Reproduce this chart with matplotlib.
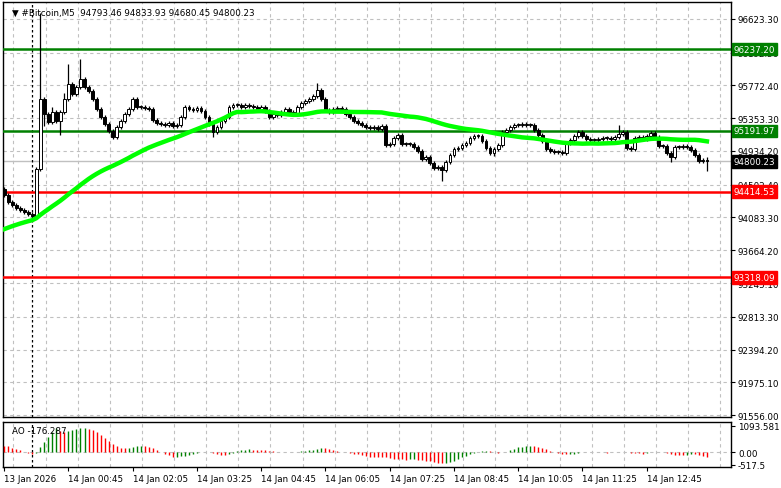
import matplotlib
matplotlib.use("Agg")
import matplotlib.pyplot as plt
import numpy as np

symbol_title = "#Bitcoin,M5  94793.46 94833.93 94680.45 94800.23"
first_open = 94450.0
closes = [94372,94283,94244,94206,94180,94155,94129,94104,94705,95600,
95408,95306,95434,95318,95434,95600,95792,95664,95754,95856,
95754,95702,95600,95472,95370,95280,95191,95114,95242,95318,
95408,95472,95600,95498,95498,95485,95472,95331,95293,95280,
95267,95293,95255,95267,95370,95498,95472,95459,95485,95446,
95370,95280,95178,95242,95318,95370,95498,95523,95523,95498,
95523,95510,95498,95472,95498,95446,95370,95408,95395,95434,
95472,95434,95408,95498,95549,95574,95600,95638,95715,95600,
95459,95434,95472,95485,95472,95408,95370,95318,95293,95267,
95242,95229,95242,95216,95255,95012,95024,95101,95140,95024,
95024,95024,94986,94935,94833,94858,94781,94717,94730,94692,
94794,94884,94960,94973,95012,95037,95101,95127,95127,95063,
94973,94909,94960,95012,95178,95204,95242,95267,95267,95280,
95267,95267,95204,95140,95063,94960,94935,94922,94922,94909,
95037,95076,95127,95178,95127,95088,95076,95076,95088,95101,
95101,95088,95114,95152,95178,94973,94960,95101,95114,95088,
95127,95165,95114,94999,94999,94909,94858,94986,94986,94999,
94986,94948,94884,94807,94820,94800.23]
base_wick = 25.0
upper_wick_overrides = {9: 1100, 16: 256, 19: 256, 78: 90, 153: 115, 175: 33, 12: 60, 15: 80}
lower_wick_overrides = {14: 180, 52: 60, 109: 140, 175: 120, 10: 150, 166: 60, 122: 40}
# bars before the visible window (for SMA / AO warm-up)
pre_closes = [93300,93320,93340,93360,93390,93410,93440,93460,93490,93510,93530,93560,93580,93600,93620,
93700,93730,93760,93790,93820,93850,93880,93900,93930,93960,93990,94010,94040,94070,94100,94120,94150,94170,94190,94210,
94250,94270,94290,94310,94330,94340,94360,94380,94390,94410,94420,94430,94440,94450]
ma_period = 50
hlines_green = [96237.20, 95191.97]
hlines_red = [94414.53, 93318.09]
current_price = 94800.23
price_ticks = [96623.30, 96192.50, 95772.40, 95353.30, 94934.20, 94502.40, 94083.30,
               93664.20, 93245.10, 92813.30, 92394.20, 91975.10, 91556.00]
time_labels = ["13 Jan 2026","14 Jan 00:45","14 Jan 02:05","14 Jan 03:25","14 Jan 04:45",
               "14 Jan 06:05","14 Jan 07:25","14 Jan 08:45","14 Jan 10:05","14 Jan 11:25","14 Jan 12:45"]
time_label_idx = [0,16,32,48,64,80,96,112,128,144,160]
day_sep_idx = 7
ao_label = "AO -176.287"
ao_ticks = [1093.581, 0.0, -517.5]
ao_tick_labels = ["1093.581", "0.00", "-517.5"]

n = len(closes)
c = np.array(closes, float)
o = np.concatenate([[first_open], c[:-1]])
uw = np.array([upper_wick_overrides.get(i, base_wick) for i in range(n)])
lw = np.array([lower_wick_overrides.get(i, base_wick) for i in range(n)])
h = np.maximum(o, c) + uw
l = np.minimum(o, c) - lw
idx = np.arange(n)

allc = np.concatenate([pre_closes, c])
ma = np.convolve(allc, np.ones(ma_period)/ma_period, mode='valid')[-n:]
med_all = np.concatenate([pre_closes, (h + l) / 2])
def sma(x, p):
    return np.convolve(x, np.ones(p)/p, mode='valid')
s34 = sma(med_all, 34)
s5 = sma(med_all, 5)[-len(s34):]
ao_full = s5 - s34
ao = ao_full[-n:]
ao_prev = ao_full[-n-1:-1]

fig = plt.figure(figsize=(7.81, 4.89), dpi=100)
W, H = 781, 489
ax = fig.add_axes([3/W, 1-418/H, 728/W, 415/H])
ax2 = fig.add_axes([3/W, 1-468/H, 728/W, 45/H], sharex=ax)
xlim = (-0.3, (728-4)/4)
fs = 6.3
font = dict(fontsize=fs, family="DejaVu Sans")

grid_kw = dict(color="#c0c0c0", linestyle=(0, (3, 3)), linewidth=0.8, zorder=0)
for t in price_ticks:
    ax.axhline(t, **grid_kw)
for gx in np.arange(2.3, xlim[1], 8):
    ax.axvline(gx, **grid_kw)
    ax2.axvline(gx, **grid_kw)
ax2.axhline(0, **grid_kw)

ax.axhline(current_price, color="#c0c0c0", linewidth=1, zorder=1)
for v in hlines_green:
    ax.axhline(v, color="#008000", linewidth=1.8, zorder=3)
for v in hlines_red:
    ax.axhline(v, color="#ff0000", linewidth=1.8, zorder=3)

ax.vlines(idx, l, h, color="black", linewidth=0.9, zorder=4)
bw = 0.7
for i in range(n):
    bull = c[i] >= o[i]
    bot = min(o[i], c[i]); ht = max(abs(c[i]-o[i]), 6)
    ax.add_patch(plt.Rectangle((i - bw/2, bot), bw, ht, facecolor="white" if bull else "black",
                               edgecolor="black", linewidth=0.7, zorder=5))
ax.plot(idx, ma, color="#00ff00", linewidth=3.2, zorder=6)

ax.axvline(day_sep_idx, color="black", linestyle=(0, (2, 2)), linewidth=0.9, zorder=2)
ax2.axvline(day_sep_idx, color="black", linestyle=(0, (2, 2)), linewidth=0.9, zorder=2)

ax.set_xlim(*xlim)
ax.set_ylim(96878.6 - 12.794*418, 96878.6 - 12.794*3)
ax.yaxis.tick_right()
ax.set_yticks(price_ticks)
ax.set_yticklabels([f"{t:.2f}" for t in price_ticks], **font)
ax.tick_params(axis='y', length=3, pad=2, width=0.8)
ax.tick_params(axis='x', bottom=False, labelbottom=False)

def tag(v, bg, fg="white"):
    ax.text(1.004, v, f"{v:.2f}", transform=ax.get_yaxis_transform(), ha="left", va="center",
            color=fg, fontsize=fs, family="DejaVu Sans", zorder=10, clip_on=False,
            bbox=dict(boxstyle="square,pad=0.2", facecolor=bg, edgecolor=bg))
for v in hlines_green:
    tag(v, "#008000")
for v in hlines_red:
    tag(v, "#ff0000")
tag(current_price, "black")

ax.text(0.012, 0.985, "\u25bc " + symbol_title, transform=ax.transAxes, ha="left", va="top", **font)

cols = np.where(ao > ao_prev, "#008000", "#ff0000")
ax2.vlines(idx, 0, ao, colors=cols, linewidth=1.0, zorder=3)
ax2.set_ylim(-608, 1255)
ax2.yaxis.tick_right()
ax2.set_yticks(ao_ticks)
ax2.set_yticklabels(ao_tick_labels, **font)
ax2.tick_params(axis='y', length=3, pad=2, width=0.8)
ax2.set_xticks(time_label_idx)
ax2.set_xticklabels(time_labels, ha="left", **font)
ax2.tick_params(axis='x', length=3, pad=2, width=0.8)
ax2.text(0.012, 0.9, ao_label, transform=ax2.transAxes, ha="left", va="top", **font)
for a in (ax, ax2):
    for s in a.spines.values():
        s.set_linewidth(1.0)

fig.savefig("out.png", dpi=100, facecolor="white")
